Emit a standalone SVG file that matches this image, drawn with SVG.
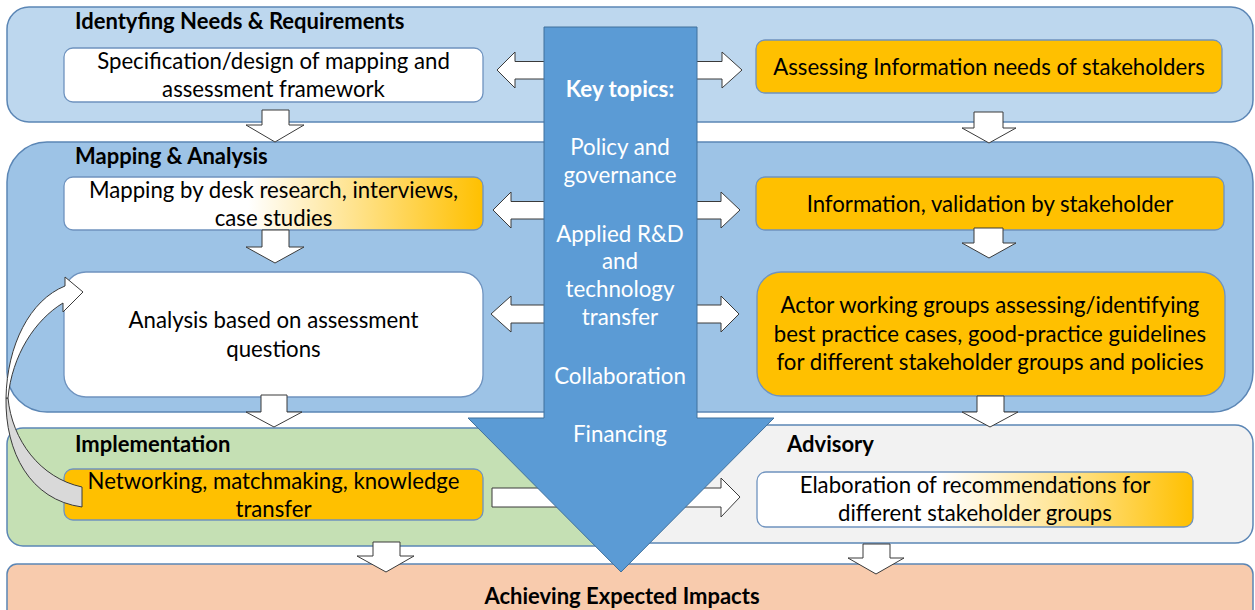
<svg xmlns="http://www.w3.org/2000/svg" width="1255" height="610" viewBox="0 0 1255 610">
  <defs>
    <style>
      .panel { stroke: #5B86B5; stroke-width: 1.5; }
      .box { stroke: #6F93BF; stroke-width: 1.3; }
      .t { font-family: Lato, "Liberation Sans", sans-serif; font-size: 22.2px; fill: #000; text-anchor: middle; }
      .h { font-family: Lato, "Liberation Sans", sans-serif; font-size: 22px; font-weight: bold; fill: #000; }
      .k { font-family: Lato, "Liberation Sans", sans-serif; font-size: 22.3px; fill: #fff; text-anchor: middle; }
      .blk { fill: #fff; stroke: #3a3a3a; stroke-width: 1; stroke-linejoin: miter; }
    </style>
    <linearGradient id="gMap" x1="64" y1="0" x2="483" y2="0" gradientUnits="userSpaceOnUse">
      <stop offset="0.44" stop-color="#FFFFFF"/>
      <stop offset="0.7" stop-color="#FFE28A"/>
      <stop offset="1" stop-color="#FFC000"/>
    </linearGradient>
    <linearGradient id="gAdv" x1="757" y1="0" x2="1193" y2="0" gradientUnits="userSpaceOnUse">
      <stop offset="0.42" stop-color="#FFFFFF"/>
      <stop offset="0.72" stop-color="#FFE28A"/>
      <stop offset="1" stop-color="#FFC000"/>
    </linearGradient>
  </defs>

  <!-- phase panels -->
  <g id="panel-needs">
    <rect class="panel" x="7" y="7" width="1246" height="115" rx="22" fill="#BDD7EE"/>
    <text class="h" x="75" y="29">Identyfing Needs &amp; Requirements</text>
  </g>
  <g id="panel-mapping">
    <rect class="panel" x="7" y="142" width="1246" height="270" rx="40" fill="#9DC3E6"/>
    <text class="h" x="75" y="164">Mapping &amp; Analysis</text>
  </g>
  <g id="panel-implementation">
    <rect class="panel" x="7" y="428" width="640" height="118" rx="16" fill="#C5E0B4"/>
    <text class="h" x="75" y="452">Implementation</text>
  </g>
  <g id="panel-advisory">
    <rect class="panel" x="600" y="425" width="653" height="118" rx="18" fill="#F2F2F2"/>
    <text class="h" x="787" y="452">Advisory</text>
  </g>
  <g id="panel-impacts">
    <rect class="panel" x="7" y="564" width="1246" height="60" rx="10" fill="#F8CBAD"/>
    <text class="h" x="622" y="604" text-anchor="middle">Achieving Expected Impacts</text>
  </g>

  <!-- activity boxes -->
  <g id="spec">
    <rect class="box" x="64" y="48" width="419" height="54" rx="9" fill="#fff"/>
    <text class="t" x="273.5" y="69">Specification/design of mapping and</text>
    <text class="t" x="273.5" y="97">assessment framework</text>
  </g>
  <g id="info-needs">
    <rect class="box" x="756" y="40" width="466" height="53" rx="9" fill="#FFC000"/>
    <text class="t" x="989" y="75">Assessing Information needs of stakeholders</text>
  </g>
  <g id="desk-mapping">
    <rect class="box" x="64" y="177" width="419" height="53" rx="9" fill="url(#gMap)"/>
    <text class="t" x="273.5" y="198">Mapping by desk research, interviews,</text>
    <text class="t" x="273.5" y="226">case studies</text>
  </g>
  <g id="validation">
    <rect class="box" x="756" y="177" width="468" height="53" rx="9" fill="#FFC000"/>
    <text class="t" x="990" y="212">Information, validation by stakeholder</text>
  </g>
  <g id="analysis">
    <rect class="box" x="64" y="272" width="419" height="125" rx="22" fill="#fff"/>
    <text class="t" x="273.5" y="328">Analysis based on assessment</text>
    <text class="t" x="273.5" y="357">questions</text>
  </g>
  <g id="working-groups">
    <rect class="box" x="757" y="272" width="468" height="124" rx="24" fill="#FFC000"/>
    <text class="t" x="990" y="313">Actor working groups assessing/identifying</text>
    <text class="t" x="990" y="342">best practice cases, good-practice guidelines</text>
    <text class="t" x="990" y="370">for different stakeholder groups and policies</text>
  </g>
  <g id="networking">
    <rect class="box" x="64" y="469" width="419" height="51" rx="9" fill="#FFC000"/>
    <text class="t" x="273.5" y="489">Networking, matchmaking, knowledge</text>
    <text class="t" x="273.5" y="517">transfer</text>
  </g>
  <g id="recommendations">
    <rect class="box" x="757" y="472" width="436" height="55" rx="9" fill="url(#gAdv)"/>
    <text class="t" x="975" y="493">Elaboration of recommendations for</text>
    <text class="t" x="975" y="521">different stakeholder groups</text>
  </g>

  <!-- connectors -->
  <g id="connectors">
    <!-- flow down between phases -->
    <path class="blk" d="M262,110 H289 V125 H304 L275,142 L246,125 H262 Z"/>
    <path class="blk" d="M974,112 H1003 V128 H1016 L989,143 L962,128 H974 Z"/>
    <path class="blk" d="M262,230 H289 V247 H304 L275,263 L246,247 H262 Z"/>
    <path class="blk" d="M974,228 H1003 V243 H1016 L989,258 L962,243 H974 Z"/>
    <path class="blk" d="M261,395 H287 V412 H302 L274,427 L246,412 H261 Z"/>
    <path class="blk" d="M977,396 H1004 V412 H1018 L990,427 L962,412 H977 Z"/>
    <path class="blk" d="M373,542 H400 V556 H414 L386,572 L357,556 H373 Z"/>
    <path class="blk" d="M863,544 H890 V558 H904 L876,574 L848,558 H863 Z"/>

    <!-- key topics feeding both sides -->
    <path class="blk" d="M555,61.5 H515 V52 L497,70 L515,88 V79 H555 Z"/>
    <path class="blk" d="M685,61.5 H722 V52 L742,70 L722,88 V79 H685 Z"/>
    <path class="blk" d="M555,201.5 H511 V192 L493,210 L511,228 V219 H555 Z"/>
    <path class="blk" d="M685,201.5 H721 V192 L740,210 L721,228 V219 H685 Z"/>
    <path class="blk" d="M555,305 H511 V296 L491,314 L511,332 V323 H555 Z"/>
    <path class="blk" d="M685,305 H721 V296 L739,314 L721,332 V323 H685 Z"/>
    <path class="blk" d="M492,488 H721 V478 L740,497 L721,517 V507 H492 Z"/>

    <!-- feedback loop from implementation back to analysis -->
    <path d="M8,398 C 12,440 40,478 82,487 L82,507 C 30,500 5,452 6,398 Z" fill="#D9D9D9" stroke="#3a3a3a" stroke-width="1"/>
    <path d="M65,286 L65,277 L83,292 L63,312 L63,303 C 35,320 12,355 8,398 L6,398 C 7,345 30,300 65,286 Z" fill="#fff" stroke="#3a3a3a" stroke-width="1"/>
  </g>

  <!-- key topics arrow across all phases -->
  <g id="key-topics">
    <path d="M544,27 H697 V418 H774 L621,572 L468,418 H544 Z" fill="#5B9BD5" stroke="#41719C" stroke-width="1"/>
    <text class="k" x="620" y="97" font-weight="bold">Key topics:</text>
    <text class="k" x="620" y="155">Policy and</text>
    <text class="k" x="620" y="183">governance</text>
    <text class="k" x="620" y="242">Applied R&amp;D</text>
    <text class="k" x="620" y="269">and</text>
    <text class="k" x="620" y="297">technology</text>
    <text class="k" x="620" y="325">transfer</text>
    <text class="k" x="620" y="384">Collaboration</text>
    <text class="k" x="620" y="442">Financing</text>
  </g>
</svg>
